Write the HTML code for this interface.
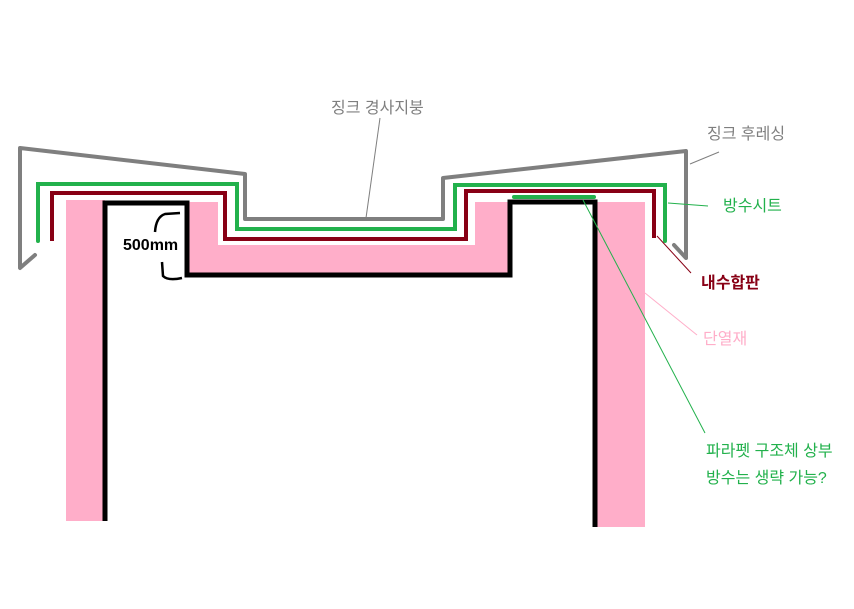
<!DOCTYPE html>
<html><head><meta charset="utf-8"><style>
body{margin:0;background:#fff;}
svg{display:block}
text{font-family:"Liberation Sans","Noto Sans CJK KR","NanumGothic",sans-serif;font-size:16px;}
</style></head><body>
<svg width="854" height="609" viewBox="0 0 854 609">
<rect x="66" y="200" width="39" height="321" fill="#ffaec9"/>
<rect x="187" y="202" width="31" height="73" fill="#ffaec9"/>
<rect x="187" y="245" width="323" height="30" fill="#ffaec9"/>
<rect x="475" y="202" width="35" height="73" fill="#ffaec9"/>
<rect x="597" y="202" width="48" height="325" fill="#ffaec9"/>
<polyline points="105,521 105,203 187,203 187,275 510,275 510,202 595,202 595,527" fill="none" stroke="#000" stroke-width="5"/>
<g fill="none" stroke="#7f7f7f" stroke-width="4" stroke-linejoin="round" stroke-linecap="round">
<polyline points="35,255 20,268 20,148 245,174 245,219 443,219 443,178 686,151 686,258 674,245"/>
</g>
<g fill="none" stroke="#22b14c" stroke-width="4" stroke-linecap="round">
<polyline points="38,241 38,184 237,184 237,229 455,229 455,185 665,185 665,241"/>
<line x1="514" y1="197" x2="594" y2="197"/>
</g>
<polyline points="52,241 52,193 225,193 225,239 466,239 466,191 654,191 654,238" fill="none" stroke="#880015" stroke-width="4"/>
<line x1="380" y1="118" x2="366" y2="218" stroke="#7f7f7f" stroke-width="1"/>
<line x1="690" y1="164" x2="719" y2="152" stroke="#7f7f7f" stroke-width="1"/>
<line x1="668" y1="203" x2="708" y2="206" stroke="#22b14c" stroke-width="1"/>
<line x1="657" y1="236" x2="691" y2="273" stroke="#880015" stroke-width="1"/>
<line x1="645" y1="293" x2="697" y2="335" stroke="#ffaec9" stroke-width="1"/>
<line x1="583" y1="200" x2="705" y2="433" stroke="#22b14c" stroke-width="1"/>
<path d="M180,213 L165,214 Q156,217 155,232" fill="none" stroke="#000" stroke-width="2.5"/>
<path d="M162,262 L163,276 Q168,281 182,278" fill="none" stroke="#000" stroke-width="2.5"/>
<text x="123" y="250" font-weight="bold" font-size="14" fill="#000">500mm</text>
<text x="331" y="113" fill="#7f7f7f">징크 경사지붕</text>
<text x="707" y="139" fill="#7f7f7f">징크 후레싱</text>
<text x="723" y="211" fill="#22b14c">방수시트</text>
<text x="701" y="288" fill="#880015" font-weight="bold">내수합판</text>
<text x="703" y="344" fill="#ffaec9">단열재</text>
<text x="706" y="456" fill="#22b14c">파라펫 구조체 상부</text>
<text x="706" y="483" fill="#22b14c">방수는 생략 가능?</text>
</svg>
</body></html>
